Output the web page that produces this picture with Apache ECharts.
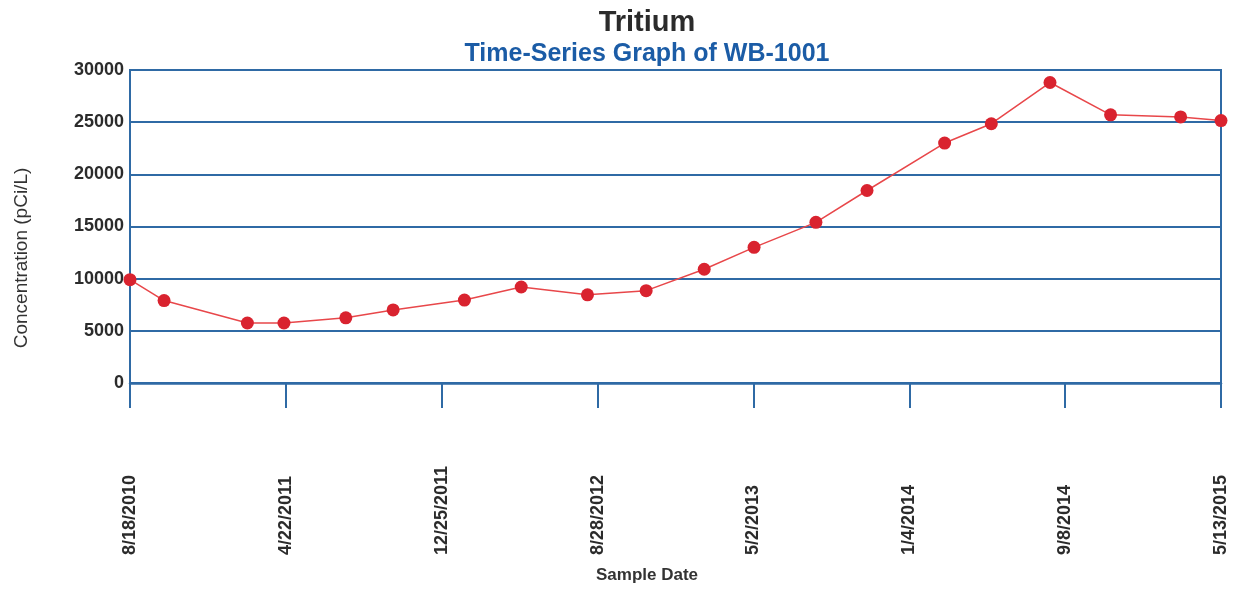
<!DOCTYPE html>
<html>
<head>
<meta charset="utf-8">
<title>Tritium - WB-1001</title>
<script src="https://cdn.jsdelivr.net/npm/echarts@6/dist/echarts.min.js"></script>
<style>
  html, body { margin: 0; padding: 0; background: #fff; }
  #chart { width: 1237px; height: 591px; }
</style>
</head>
<body>
<div id="chart"></div>
<script>
// sample dates (M/D/YYYY) and tritium concentration (pCi/L)
var sampleDates = [
  '8/18/2010', '10/11/2010', '2/20/2011', '4/19/2011', '7/26/2011',
  '10/9/2011', '1/30/2012', '4/29/2012', '8/12/2012', '11/13/2012',
  '2/13/2013', '5/3/2013', '8/9/2013', '10/29/2013', '3/1/2014',
  '5/14/2014', '8/15/2014', '11/19/2014', '3/10/2015', '5/13/2015'
]
var concentration = [
  9900, 7900, 5750, 5750, 6250,
  7000, 7950, 9200, 8450, 8850,
  10900, 13000, 15400, 18450, 23000,
  24850, 28800, 25700, 25500, 25150
]
// x axis tick labels, every 247 days from the first sample
var tickLabels = [
  '8/18/2010', '4/22/2011', '12/25/2011', '8/28/2012',
  '5/2/2013', '1/4/2014', '9/8/2014', '5/13/2015'
]
var tickStepDays = 247

var blue = '#2f6aa5'

function dayNumber(s) {
  var p = s.split('/')
  return Date.UTC(+p[2], +p[0] - 1, +p[1]) / 86400000
}
var day0 = dayNumber(tickLabels[0])

var seriesData = sampleDates.map(function (d, i) {
  return [dayNumber(d) - day0, concentration[i]]
})

var chart = echarts.init(document.getElementById('chart'))

chart.setOption({
  animation: false,
  textStyle: { fontFamily: 'Liberation Sans' },
  title: [
    {
      text: 'Tritium',
      left: 647,
      top: 8,
      textAlign: 'center',
      padding: 0,
      textStyle: { fontSize: 29, fontWeight: 'bold', color: '#2b2b2b', fontFamily: 'Liberation Sans' }
    },
    {
      text: 'Time-Series Graph of WB-1001',
      left: 647,
      top: 42,
      textAlign: 'center',
      padding: 0,
      textStyle: { fontSize: 25, fontWeight: 'bold', color: '#1b5ca6', fontFamily: 'Liberation Sans' }
    }
  ],
  grid: {
    left: 130,
    right: 16,
    top: 70,
    bottom: 208,
    show: true,
    borderColor: blue,
    borderWidth: 2,
    containLabel: false
  },
  xAxis: {
    type: 'value',
    min: 0,
    max: tickStepDays * (tickLabels.length - 1),
    interval: tickStepDays,
    splitLine: { show: false },
    axisLine: { show: true, lineStyle: { color: blue, width: 2.5 } },
    axisTick: { show: true, length: 25, lineStyle: { color: blue, width: 2 } },
    axisLabel: {
      rotate: 90,
      align: 'left',
      margin: 172,
      fontSize: 18,
      fontWeight: 'bold',
      color: '#2b2b2b',
      formatter: function (v) {
        return tickLabels[Math.round(v / tickStepDays)] || ''
      }
    }
  },
  yAxis: {
    type: 'value',
    min: 0,
    max: 30000,
    interval: 5000,
    axisLine: { show: true, lineStyle: { color: blue, width: 2 } },
    axisTick: { show: false },
    splitLine: { show: true, lineStyle: { color: blue, width: 2 } },
    axisLabel: {
      margin: 6,
      fontSize: 18,
      fontWeight: 'bold',
      color: '#2b2b2b',
      formatter: function (v) { return String(v) }
    }
  },
  graphic: [
    {
      type: 'text',
      x: 22,
      y: 258,
      rotation: Math.PI / 2,
      style: {
        text: 'Concentration (pCi/L)',
        font: '19px "Liberation Sans"',
        fill: '#333',
        align: 'center',
        verticalAlign: 'middle',
        textAlign: 'center',
        textVerticalAlign: 'middle'
      }
    },
    {
      type: 'text',
      x: 647,
      y: 575,
      style: {
        text: 'Sample Date',
        font: 'bold 17px "Liberation Sans"',
        fill: '#333',
        align: 'center',
        verticalAlign: 'middle',
        textAlign: 'center',
        textVerticalAlign: 'middle'
      }
    }
  ],
  series: [
    {
      name: 'Tritium',
      type: 'line',
      data: seriesData,
      symbol: 'circle',
      symbolSize: 13,
      lineStyle: { color: '#e8474a', width: 1.5 },
      itemStyle: { color: '#d9232f' }
    }
  ]
})
</script>
</body>
</html>
